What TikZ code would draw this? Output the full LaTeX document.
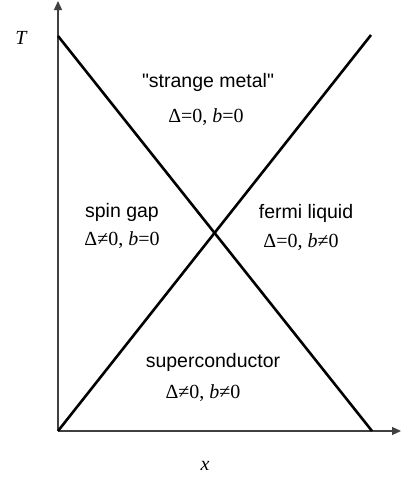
\documentclass[tikz,border=0pt]{standalone}
\usepackage{fontspec}
\setmainfont{Liberation Serif}
\newfontfamily\labelfont{Liberation Sans}
\usetikzlibrary{arrows.meta}
\tikzset{
  axisline/.style={draw=black!75, line width=1.2pt, -{Triangle[length=9pt,width=8pt]}},
  boundary/.style={draw=black, line width=2.6pt},
  regionlabel/.style={font=\labelfont\fontsize{19.5}{22}\selectfont, inner sep=0pt, anchor=center},
  formula/.style={font=\fontsize{20}{22}\selectfont, inner sep=0pt, anchor=center},
  axislabel/.style={font=\itshape\fontsize{20}{22}\selectfont, inner sep=0pt, anchor=center}
}
\begin{document}
\begin{tikzpicture}[x=1pt,y=-1pt]
\useasboundingbox (0,0) rectangle (401,479);
\coordinate (o) at (58,431);
\coordinate (top) at (58,1);
\coordinate (right) at (401,431);
\coordinate (a) at (58,36);
\coordinate (b) at (372,431);
\coordinate (c) at (371,35);
\draw[axisline] (o) -- (top);
\draw[axisline] (o) -- (right);
\draw[boundary] (a) -- (b);
\draw[boundary] (o) -- (c);
\node[axislabel] (T) at (21,38) {T};
\node[axislabel] (xl) at (205,466) {x};
\node[regionlabel] (sm) at (208,82) {"strange metal"};
\node[formula] (smf) at (206,117) {Δ=0, \textit{b}=0};
\node[regionlabel] (sg) at (122,212) {spin gap};
\node[formula] (sgf) at (122,240) {Δ≠0, \textit{b}=0};
\node[regionlabel] (fl) at (306,213) {fermi liquid};
\node[formula] (flf) at (301,242) {Δ=0, \textit{b}≠0};
\node[regionlabel] (sc) at (213,362) {superconductor};
\node[formula] (scf) at (203,393) {Δ≠0, \textit{b}≠0};
\end{tikzpicture}
\end{document}
